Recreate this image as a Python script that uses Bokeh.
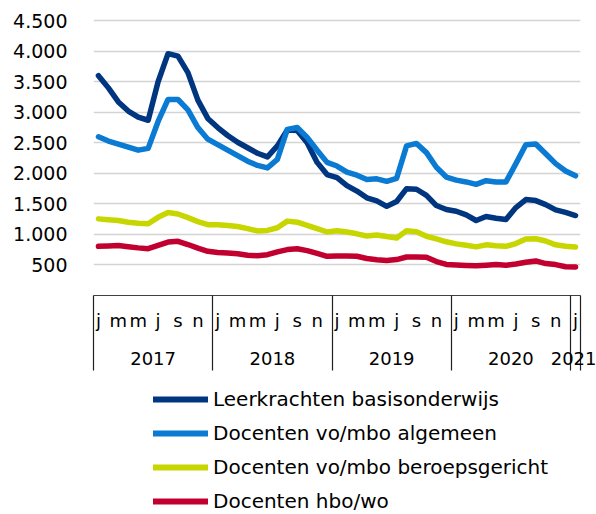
from bokeh.plotting import figure
from bokeh.models import FixedTicker, LinearAxis, Legend, LegendItem, Range1d
from bokeh.layouts import column
from bokeh.embed import file_html
from bokeh.resources import INLINE

# ---- data -------------------------------------------------------------
years = ["2017", "2018", "2019", "2020", "2021"]
month_letters = ["j", "f", "m", "a", "m", "j", "j", "a", "s", "o", "n", "d"]
months = [f"{y} {m}" for y in years[:4] for m in month_letters] + ["2021 j"]

leerkrachten_basis = [3600, 3400, 3170, 3020, 2920, 2870, 3500, 3960, 3920, 3650, 3200, 2900,
                      2750, 2620, 2510, 2420, 2330, 2270, 2450, 2710, 2700, 2500, 2180, 1980,
                      1930, 1800, 1710, 1600, 1550, 1460, 1540, 1750, 1740, 1640, 1473, 1408,
                      1380, 1320, 1228, 1295, 1266, 1245, 1440, 1571, 1554, 1489, 1402, 1360,
                      1310]
docenten_algemeen = [2600, 2530, 2480, 2430, 2380, 2410, 2850, 3210, 3210, 3040, 2750, 2560,
                     2470, 2380, 2290, 2200, 2130, 2090, 2230, 2720, 2750, 2590, 2380, 2180,
                     2120, 2020, 1970, 1900, 1910, 1870, 1920, 2450, 2490, 2340, 2100, 1940,
                     1890, 1860, 1820, 1880, 1860, 1860, 2160, 2470, 2480, 2320, 2160, 2040,
                     1960]
docenten_beroeps = [1255, 1240, 1228, 1200, 1185, 1175, 1280, 1360, 1335, 1275, 1210, 1160,
                    1160, 1148, 1130, 1095, 1058, 1066, 1109, 1218, 1200, 1150, 1095, 1040,
                    1062, 1040, 1010, 975, 992, 965, 942, 1062, 1045, 970, 928, 880,
                    845, 822, 796, 830, 815, 805, 850, 925, 930, 892, 830, 808,
                    794]
docenten_hbo = [805, 812, 820, 800, 780, 767, 820, 875, 888, 835, 775, 723,
                705, 695, 685, 660, 650, 669, 715, 752, 765, 735, 690, 642,
                646, 645, 642, 605, 585, 572, 588, 631, 631, 627, 555, 508,
                500, 492, 486, 495, 506, 495, 515, 545, 566, 523, 506, 470,
                468]

series_names = ["Leerkrachten basisonderwijs", "Docenten vo/mbo algemeen",
                "Docenten vo/mbo beroepsgericht", "Docenten hbo/wo"]
series_values = [leerkrachten_basis, docenten_algemeen, docenten_beroeps, docenten_hbo]
series_colors = ["#003580", "#0a7ad2", "#c8d600", "#c2002f"]

y_ticks = [500, 1000, 1500, 2000, 2500, 3000, 3500, 4000, 4500]
y_tick_labels = ["500", "1.000", "1.500", "2.000", "2.500", "3.000", "3.500", "4.000", "4.500"]

month_tick_idx = [i for i, m in enumerate(months) if i % 2 == 0]
month_tick_labels = [months[i].split(" ")[1] for i in month_tick_idx]
year_centers = [5.5, 17.5, 29.5, 41.5, 48]
year_bounds = [-0.5, 11.5, 23.5, 35.5, 47.5, 48.5]

x = list(range(len(months)))

FONT = "DejaVu Sans"

p = figure(width=596, height=372, output_backend="svg", toolbar_location=None,
           x_range=Range1d(-0.5, 48.5), y_range=Range1d(0, 4700),
           min_border_left=93, min_border_right=16, min_border_top=8,
           min_border_bottom=77, x_axis_location=None)
p.outline_line_color = None
p.background_fill_color = "white"
p.border_fill_color = "white"

renderers = []
for vals, col in zip(series_values, series_colors):
    r = p.line(x, vals, line_color=col, line_width=5.5, line_join="round", line_cap="round")
    renderers.append(r)

# y axis
ya = p.yaxis[0]
ya.ticker = FixedTicker(ticks=y_ticks)
ya.major_label_overrides = {t: l for t, l in zip(y_ticks, y_tick_labels)}
ya.axis_line_color = None
ya.major_tick_line_color = None
ya.minor_tick_line_color = None
ya.major_label_standoff = 20
ya.major_label_text_font = FONT
ya.major_label_text_font_size = "19px"
ya.major_label_text_color = "#000000"

p.xgrid.grid_line_color = None
p.ygrid.ticker = FixedTicker(ticks=y_ticks)
p.ygrid.grid_line_color = "#d4d4d4"
p.ygrid.grid_line_width = 1.5

# month axis (with year separator lines as minor ticks)
xa = LinearAxis(ticker=FixedTicker(ticks=month_tick_idx, minor_ticks=year_bounds))
xa.major_label_overrides = {t: l for t, l in zip(month_tick_idx, month_tick_labels)}
xa.axis_line_color = "#404040"
xa.axis_line_width = 1.2
xa.major_tick_line_color = None
xa.major_tick_out = 0
xa.major_tick_in = 0
xa.minor_tick_line_color = "#202020"
xa.minor_tick_line_width = 1.2
xa.minor_tick_out = 75
xa.minor_tick_in = 0
xa.major_label_standoff = -61
xa.major_label_text_font = FONT
xa.major_label_text_font_size = "18px"
xa.major_label_text_color = "#000000"
p.add_layout(xa, "below")

# year axis
ya2 = LinearAxis(ticker=FixedTicker(ticks=year_centers, minor_ticks=[]))
ya2.major_label_overrides = {t: l for t, l in zip(year_centers, years)}
ya2.axis_line_color = None
ya2.major_tick_line_color = None
ya2.minor_tick_line_color = None
ya2.major_tick_out = 0
ya2.minor_tick_out = 0
ya2.major_label_standoff = 18
ya2.major_label_text_font = FONT
ya2.major_label_text_font_size = "18px"
ya2.major_label_text_color = "#000000"
p.add_layout(ya2, "below")

# legend in its own strip below the chart (hidden copies of the series supply the keys)
q = figure(width=596, height=141, output_backend="svg", toolbar_location=None,
           x_range=Range1d(0, 1), y_range=Range1d(0, 1),
           min_border_left=93, min_border_right=16, min_border_top=0,
           min_border_bottom=0, x_axis_location=None, y_axis_location=None)
q.outline_line_color = None
q.xgrid.grid_line_color = None
q.ygrid.grid_line_color = None
legend_renderers = [q.line(x, vals, line_color=c, line_width=6, line_cap="round", visible=False)
                    for vals, c in zip(series_values, series_colors)]
legend = Legend(items=[LegendItem(label=n, renderers=[r]) for n, r in zip(series_names, legend_renderers)],
                location=(60, 0), orientation="vertical",
                padding=0, margin=0, spacing=10, glyph_width=55, glyph_height=24,
                label_height=24, label_standoff=5,
                label_text_font=FONT, label_text_font_size="20px",
                label_text_color="#000000", border_line_color=None,
                background_fill_alpha=0, inactive_fill_alpha=0)
q.add_layout(legend, "center")

layout = column(p, q, spacing=0)
open("out.html", "w").write(file_html(layout, INLINE))
